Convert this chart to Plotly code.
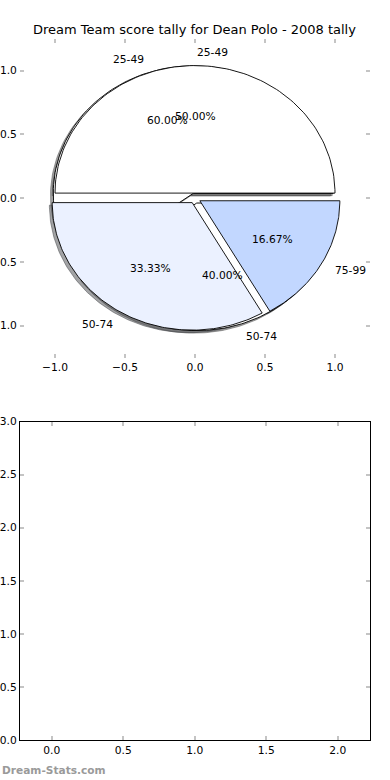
import numpy as np
import plotly.graph_objects as go

# ---------------- data ----------------
title_text = "Dream Team score tally for Dean Polo - 2008 tally"
pie1_labels = ["25-49", "50-74"]
pie1_counts = [3, 2]
pie1_colors = ["#ffffff", "#ffffff"]
pie2_labels = ["25-49", "50-74", "75-99"]
pie2_counts = [3, 2, 1]
pie2_colors = ["#ffffff", "#ebf1ff", "#c2d7ff"]
explode = 0.04
shadow_dx, shadow_dy = -0.02, -0.02

top_ticks = [-1.0, -0.5, 0.0, 0.5, 1.0]
bottom_xticks = [0.0, 0.5, 1.0, 1.5, 2.0]
bottom_yticks = [0.0, 0.5, 1.0, 1.5, 2.0, 2.5, 3.0]
watermark = "Dream-Stats.com"

FONT = "DejaVu Sans"
W, H = 390, 780


def fmt(v):
    s = f"{v:.1f}"
    return s.replace("-", "\u2212")


def wedges(counts):
    total = float(sum(counts))
    out = []
    start = 0.0
    for c in counts:
        frac = c / total
        t1, t2 = 360.0 * start, 360.0 * (start + frac)
        mid = np.deg2rad((t1 + t2) / 2)
        cx, cy = explode * np.cos(mid), explode * np.sin(mid)
        th = np.deg2rad(np.linspace(t1, t2, 120))
        xs = np.concatenate([[cx], cx + np.cos(th), [cx]])
        ys = np.concatenate([[cy], cy + np.sin(th), [cy]])
        out.append(dict(xs=xs, ys=ys, mid=mid, cx=cx, cy=cy, pct=100 * frac))
        start += frac
    return out


w1 = wedges(pie1_counts)
w2 = wedges(pie2_counts)

fig = go.Figure()


def shadow_color(hexc):
    r = int(hexc[1:3], 16) * 0.3
    g = int(hexc[3:5], 16) * 0.3
    b = int(hexc[5:7], 16) * 0.3
    return f"rgba({r:.0f},{g:.0f},{b:.0f},0.5)"


# shadows (below all wedges)
for ws, cols in ((w1, pie1_colors), (w2, pie2_colors)):
    for w, col in zip(ws, cols):
        sc = shadow_color(col)
        fig.add_trace(go.Scatter(x=w["xs"] + shadow_dx, y=w["ys"] + shadow_dy,
                                 mode="lines", fill="toself", fillcolor=sc,
                                 line=dict(color=sc, width=1), hoverinfo="skip",
                                 showlegend=False, xaxis="x", yaxis="y"))

# wedges
for ws, cols in ((w1, pie1_colors), (w2, pie2_colors)):
    for w, col in zip(ws, cols):
        fig.add_trace(go.Scatter(x=w["xs"], y=w["ys"], mode="lines", fill="toself",
                                 fillcolor=col, line=dict(color="black", width=0.9),
                                 hoverinfo="skip", showlegend=False,
                                 xaxis="x", yaxis="y"))

annotations = []
for ws, labels in ((w1, pie1_labels), (w2, pie2_labels)):
    for w, lab in zip(ws, labels):
        xt = w["cx"] + 1.1 * np.cos(w["mid"])
        yt = w["cy"] + 1.1 * np.sin(w["mid"])
        annotations.append(dict(x=xt, y=yt, xref="x", yref="y", text=lab,
                                showarrow=False, xanchor="left" if xt > 0 else "right",
                                yanchor="middle", font=dict(family=FONT, size=10.7, color="black")))
        xp = w["cx"] + 0.6 * np.cos(w["mid"])
        yp = w["cy"] + 0.6 * np.sin(w["mid"])
        annotations.append(dict(x=xp, y=yp, xref="x", yref="y", text=f"{w['pct']:.2f}%",
                                showarrow=False, xanchor="center", yanchor="middle",
                                font=dict(family=FONT, size=10.7, color="black")))

annotations.append(dict(x=194.7 / W, y=1 - 30 / H, xref="paper", yref="paper",
                        text=title_text, showarrow=False, xanchor="center", yanchor="middle",
                        font=dict(family=FONT, size=13, color="black")))
annotations.append(dict(x=0, y=1 - 770 / H, xref="paper", yref="paper", text=watermark,
                        showarrow=False, xanchor="left", yanchor="middle",
                        font=dict(family="DejaVu Sans", size=10.6, color="#9a9a9a", weight="bold")))

# empty trace for bottom axes
fig.add_trace(go.Scatter(x=[], y=[], xaxis="x2", yaxis="y2", showlegend=False))

tick_common = dict(ticks="inside", ticklen=4, tickwidth=1.5, tickcolor="#c4c4c4",
                   showgrid=False, zeroline=False, mirror="ticks", automargin=False,
                   tickfont=dict(family=FONT, size=10.7, color="black"))

fig.update_layout(
    width=W, height=H, margin=dict(l=0, r=0, t=0, b=0, autoexpand=False),
    paper_bgcolor="white", plot_bgcolor="white", showlegend=False,
    xaxis=dict(domain=[20 / W, 370 / W], range=[-1.25, 1.25], tickvals=top_ticks,
               ticktext=[fmt(v) for v in top_ticks], anchor="y",
               showline=True, linecolor="rgba(0,0,0,0)", **tick_common),
    yaxis=dict(domain=[1 - 357.6 / H, 1 - 38.8 / H], range=[-1.25, 1.25], tickvals=top_ticks,
               ticktext=[fmt(v) for v in top_ticks], anchor="x",
               showline=True, linecolor="rgba(0,0,0,0)", **tick_common),
    xaxis2=dict(domain=[20 / W, 370 / W], range=[-0.222, 2.226], tickvals=bottom_xticks,
                ticktext=[fmt(v) for v in bottom_xticks], anchor="y2",
                showline=True, linecolor="black", linewidth=1.3, **tick_common),
    yaxis2=dict(domain=[1 - 740 / H, 1 - 421.5 / H], range=[0, 3], tickvals=bottom_yticks,
                ticktext=[fmt(v) for v in bottom_yticks], anchor="x2",
                showline=True, linecolor="black", linewidth=1.3, **tick_common),
    annotations=annotations,
)

fig.write_html("out.html", config={"displayModeBar": False},
               post_script="document.body.style.margin='0';document.body.style.overflow='hidden';")
